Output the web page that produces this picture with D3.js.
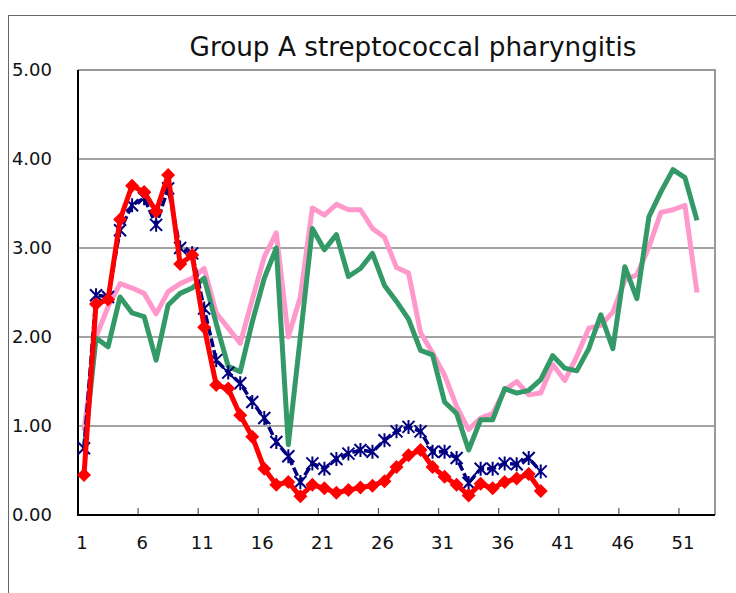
<!DOCTYPE html>
<html>
<head>
<meta charset="utf-8">
<script src="https://cdn.jsdelivr.net/npm/d3@7"></script>
<style>
  body { margin: 0; background: #fff; }
  text { font-family: "DejaVu Sans", sans-serif; fill: #111; }
</style>
</head>
<body>
<div class="graph"></div>
<script>
// Data (weeks 1..52)
var title = "Group A streptococcal pharyngitis";
var weeks = d3.range(1, 54);
var xTickLabels = [1, 6, 11, 16, 21, 26, 31, 36, 41, 46, 51];
var yTickValues = [0, 1, 2, 3, 4, 5];

var pinkValues = [0.95, 2.00, 2.34, 2.60, 2.55, 2.49, 2.26, 2.51, 2.60, 2.66,
    2.77, 2.27, 2.10, 1.93, 2.42, 2.90, 3.17, 2.00, 2.45, 3.45,
    3.37, 3.49, 3.43, 3.43, 3.22, 3.12, 2.78, 2.72, 2.05, 1.82,
    1.57, 1.22, 0.96, 1.09, 1.14, 1.40, 1.50, 1.35, 1.37, 1.69,
    1.51, 1.78, 2.10, 2.13, 2.28, 2.64, 2.70, 3.01, 3.40, 3.43,
    3.48, 2.50];
var greenValues = [0.72, 1.99, 1.89, 2.45, 2.27, 2.23, 1.74, 2.36, 2.49, 2.55,
    2.66, 2.15, 1.67, 1.61, 2.17, 2.66, 3.00, 0.79, 2.00, 3.22,
    2.98, 3.15, 2.68, 2.77, 2.94, 2.58, 2.40, 2.20, 1.85, 1.80,
    1.27, 1.14, 0.73, 1.07, 1.07, 1.42, 1.37, 1.40, 1.52, 1.79,
    1.65, 1.62, 1.87, 2.25, 1.87, 2.79, 2.43, 3.35, 3.63, 3.88,
    3.79, 3.31];
var blueValues = [0.75, 2.47, 2.45, 3.20, 3.48, 3.56, 3.26, 3.67, 3.00, 2.94,
    2.32, 1.74, 1.60, 1.48, 1.27, 1.09, 0.82, 0.66, 0.37, 0.58,
    0.52, 0.63, 0.69, 0.73, 0.71, 0.84, 0.94, 0.99, 0.94, 0.71,
    0.71, 0.64, 0.36, 0.52, 0.52, 0.58, 0.57, 0.64, 0.49];
var redValues = [0.45, 2.37, 2.42, 3.32, 3.70, 3.63, 3.41, 3.82, 2.82, 2.92,
    2.11, 1.46, 1.42, 1.12, 0.88, 0.52, 0.34, 0.37, 0.21, 0.34,
    0.30, 0.25, 0.28, 0.31, 0.33, 0.38, 0.54, 0.67, 0.73, 0.54,
    0.43, 0.34, 0.22, 0.35, 0.30, 0.37, 0.41, 0.46, 0.27];

// Layout
var width = 736;
var height = 593;
var plot = { left: 78, right: 715, top: 70, bottom: 515 };

var svg = d3.select(".graph").append("svg")
    .attr("width", width)
    .attr("height", height)
    .style("display", "block");

// Scales
var x = d3.scaleBand().domain(weeks).range([plot.left, plot.right]);
var y = d3.scaleLinear().domain([0, 5]).range([plot.bottom, plot.top]);
function cx(k) { return x(k) + x.bandwidth() / 2; }

// Chart frame
svg.append("rect")
    .attr("x", 8.5).attr("y", 15.5)
    .attr("width", 900).attr("height", 900)
    .attr("fill", "none").attr("stroke", "#666").attr("stroke-width", 1);

// Title
var titleText = svg.append("text")
    .attr("x", 413).attr("y", 56)
    .attr("text-anchor", "middle")
    .style("font-size", "24px")
    .text(title);
var tl = titleText.node().getComputedTextLength();
titleText.style("font-size", (24 * 447 / tl) + "px");

// Gridlines
svg.append("g").selectAll("line")
    .data(yTickValues.filter(function (d) { return d > 0 && d < 5; }))
    .enter().append("line")
    .attr("x1", plot.left).attr("x2", plot.right)
    .attr("y1", function (d) { return y(d); })
    .attr("y2", function (d) { return y(d); })
    .attr("stroke", "#858585").attr("stroke-width", 1.5);

// Plot border (top/right gray)
svg.append("path")
    .attr("d", "M" + plot.left + "," + plot.top + "H" + plot.right + "V" + plot.bottom)
    .attr("fill", "none").attr("stroke", "#999").attr("stroke-width", 2);

// Y axis labels
var yAxis = svg.append("g")
    .attr("transform", "translate(" + plot.left + ",0)")
    .call(d3.axisLeft(y).tickValues(yTickValues).tickFormat(d3.format(".2f"))
        .tickSize(0).tickPadding(26));
yAxis.select(".domain").remove();
yAxis.selectAll("text").style("font-size", "18px").style("font-family", "DejaVu Sans");

// X axis: tick marks at band boundaries, labels at band centres
var xAxis = svg.append("g")
    .attr("transform", "translate(0," + plot.bottom + ")")
    .call(d3.axisBottom(x).tickValues(xTickLabels)
        .tickSize(0).tickPadding(21));
xAxis.select(".domain").remove();
xAxis.selectAll("text").style("font-size", "18px").style("font-family", "DejaVu Sans")
    .attr("dx", -2);
svg.append("g").selectAll("line")
    .data(xTickLabels.filter(function (d) { return d > 1; }))
    .enter().append("line")
    .attr("x1", function (d) { return x(d); })
    .attr("x2", function (d) { return x(d); })
    .attr("y1", plot.bottom).attr("y2", plot.bottom - 7)
    .attr("stroke", "#555").attr("stroke-width", 1.2);

// Axis lines (black)
svg.append("path")
    .attr("d", "M" + plot.left + "," + plot.top + "V" + plot.bottom + "H" + plot.right)
    .attr("fill", "none").attr("stroke", "#000").attr("stroke-width", 2);

// Lines
var line = d3.line()
    .x(function (d, i) { return cx(i + 1); })
    .y(function (d) { return y(d); });

svg.append("path").datum(pinkValues)
    .attr("d", line).attr("fill", "none")
    .attr("stroke", "#ff99cc").attr("stroke-width", 5).attr("stroke-linejoin", "round");
svg.append("path").datum(greenValues)
    .attr("d", line).attr("fill", "none")
    .attr("stroke", "#339966").attr("stroke-width", 5).attr("stroke-linejoin", "round");

svg.append("path").datum(blueValues)
    .attr("d", line).attr("fill", "none")
    .attr("stroke", "#000080").attr("stroke-width", 3.5)
    .attr("stroke-dasharray", "9,3");
svg.append("g").selectAll("path")
    .data(blueValues).enter().append("path")
    .attr("transform", function (d, i) { return "translate(" + cx(i + 1) + "," + y(d) + ")"; })
    .attr("d", "M-6,-6L6,6M-6,6L6,-6M0,-7V7")
    .attr("stroke", "#000080").attr("stroke-width", 2).attr("fill", "none");

svg.append("path").datum(redValues)
    .attr("d", line).attr("fill", "none")
    .attr("stroke", "#ff0000").attr("stroke-width", 5).attr("stroke-linejoin", "round");
svg.append("g").selectAll("path")
    .data(redValues).enter().append("path")
    .attr("transform", function (d, i) { return "translate(" + cx(i + 1) + "," + y(d) + ")"; })
    .attr("d", "M0,-7L7,0L0,7L-7,0Z")
    .attr("fill", "#ff0000");
</script>
</body>
</html>
